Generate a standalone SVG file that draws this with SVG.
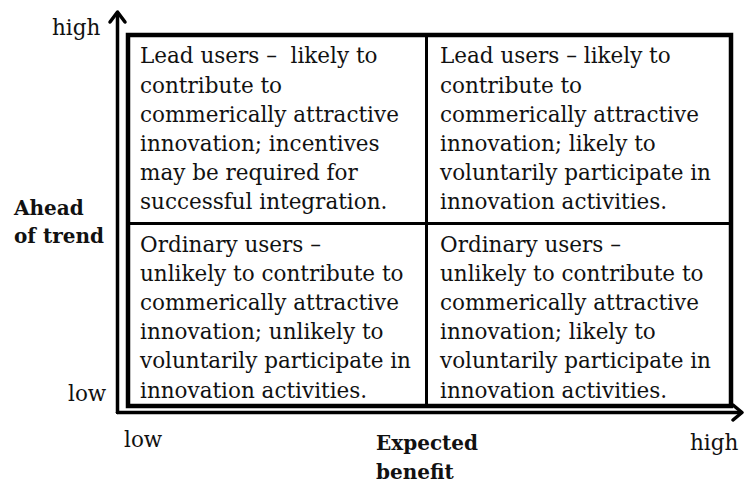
<svg xmlns="http://www.w3.org/2000/svg" width="744" height="483" viewBox="0 0 744 483">
<style>
.t{font-family:"DejaVu Serif","Liberation Serif",serif;font-size:21.5px;fill:#111}
.b{font-family:"DejaVu Serif","Liberation Serif",serif;font-size:20px;font-weight:bold;fill:#111}
.ax{stroke:#000;stroke-width:3.5;fill:none;stroke-linecap:round;stroke-linejoin:round}
</style>
<rect width="744" height="483" fill="#fff"/>
<g id="axes">
<line class="ax" x1="117.5" y1="13" x2="117.5" y2="412.5"/>
<polyline class="ax" points="110,22 117.5,12 125,22"/>
<line class="ax" x1="117.5" y1="412.5" x2="741" y2="412.5"/>
<polyline class="ax" points="733,405 742,412.5 733,420"/>
</g>
<g id="grid">
<rect x="128" y="35" width="603" height="371" fill="none" stroke="#000" stroke-width="4.5"/>
<line x1="426.5" y1="35" x2="426.5" y2="406" stroke="#000" stroke-width="3"/>
<line x1="128" y1="223.5" x2="731" y2="223.5" stroke="#000" stroke-width="3"/>
</g>
<g id="cell-top-left">
<text class="t" x="140" y="63" xml:space="preserve" style="white-space:pre">Lead users –  likely to</text>
<text class="t" x="140" y="92.5">contribute to</text>
<text class="t" x="140" y="121.5">commerically attractive</text>
<text class="t" x="140" y="151">innovation; incentives</text>
<text class="t" x="140" y="180">may be required for</text>
<text class="t" x="140" y="209">successful integration.</text>
</g>
<g id="cell-top-right">
<text class="t" x="440" y="63">Lead users – likely to</text>
<text class="t" x="440" y="92.5">contribute to</text>
<text class="t" x="440" y="121.5">commerically attractive</text>
<text class="t" x="440" y="151">innovation; likely to</text>
<text class="t" x="440" y="180">voluntarily participate in</text>
<text class="t" x="440" y="209">innovation activities.</text>
</g>
<g id="cell-bottom-left">
<text class="t" x="140" y="251.5">Ordinary users –</text>
<text class="t" x="140" y="280.5">unlikely to contribute to</text>
<text class="t" x="140" y="310">commerically attractive</text>
<text class="t" x="140" y="339">innovation; unlikely to</text>
<text class="t" x="140" y="368">voluntarily participate in</text>
<text class="t" x="140" y="397.5">innovation activities.</text>
</g>
<g id="cell-bottom-right">
<text class="t" x="440" y="251.5">Ordinary users –</text>
<text class="t" x="440" y="280.5">unlikely to contribute to</text>
<text class="t" x="440" y="310">commerically attractive</text>
<text class="t" x="440" y="339">innovation; likely to</text>
<text class="t" x="440" y="368">voluntarily participate in</text>
<text class="t" x="440" y="397.5">innovation activities.</text>
</g>
<g id="labels">
<text class="t" x="52" y="35">high</text>
<text class="b" x="14" y="215">Ahead</text>
<text class="b" x="14" y="243">of trend</text>
<text class="t" x="68" y="401">low</text>
<text class="t" x="124" y="447">low</text>
<text class="b" x="376" y="450">Expected</text>
<text class="b" x="376" y="479">benefit</text>
<text class="t" x="690" y="450">high</text>
</g>
</svg>
